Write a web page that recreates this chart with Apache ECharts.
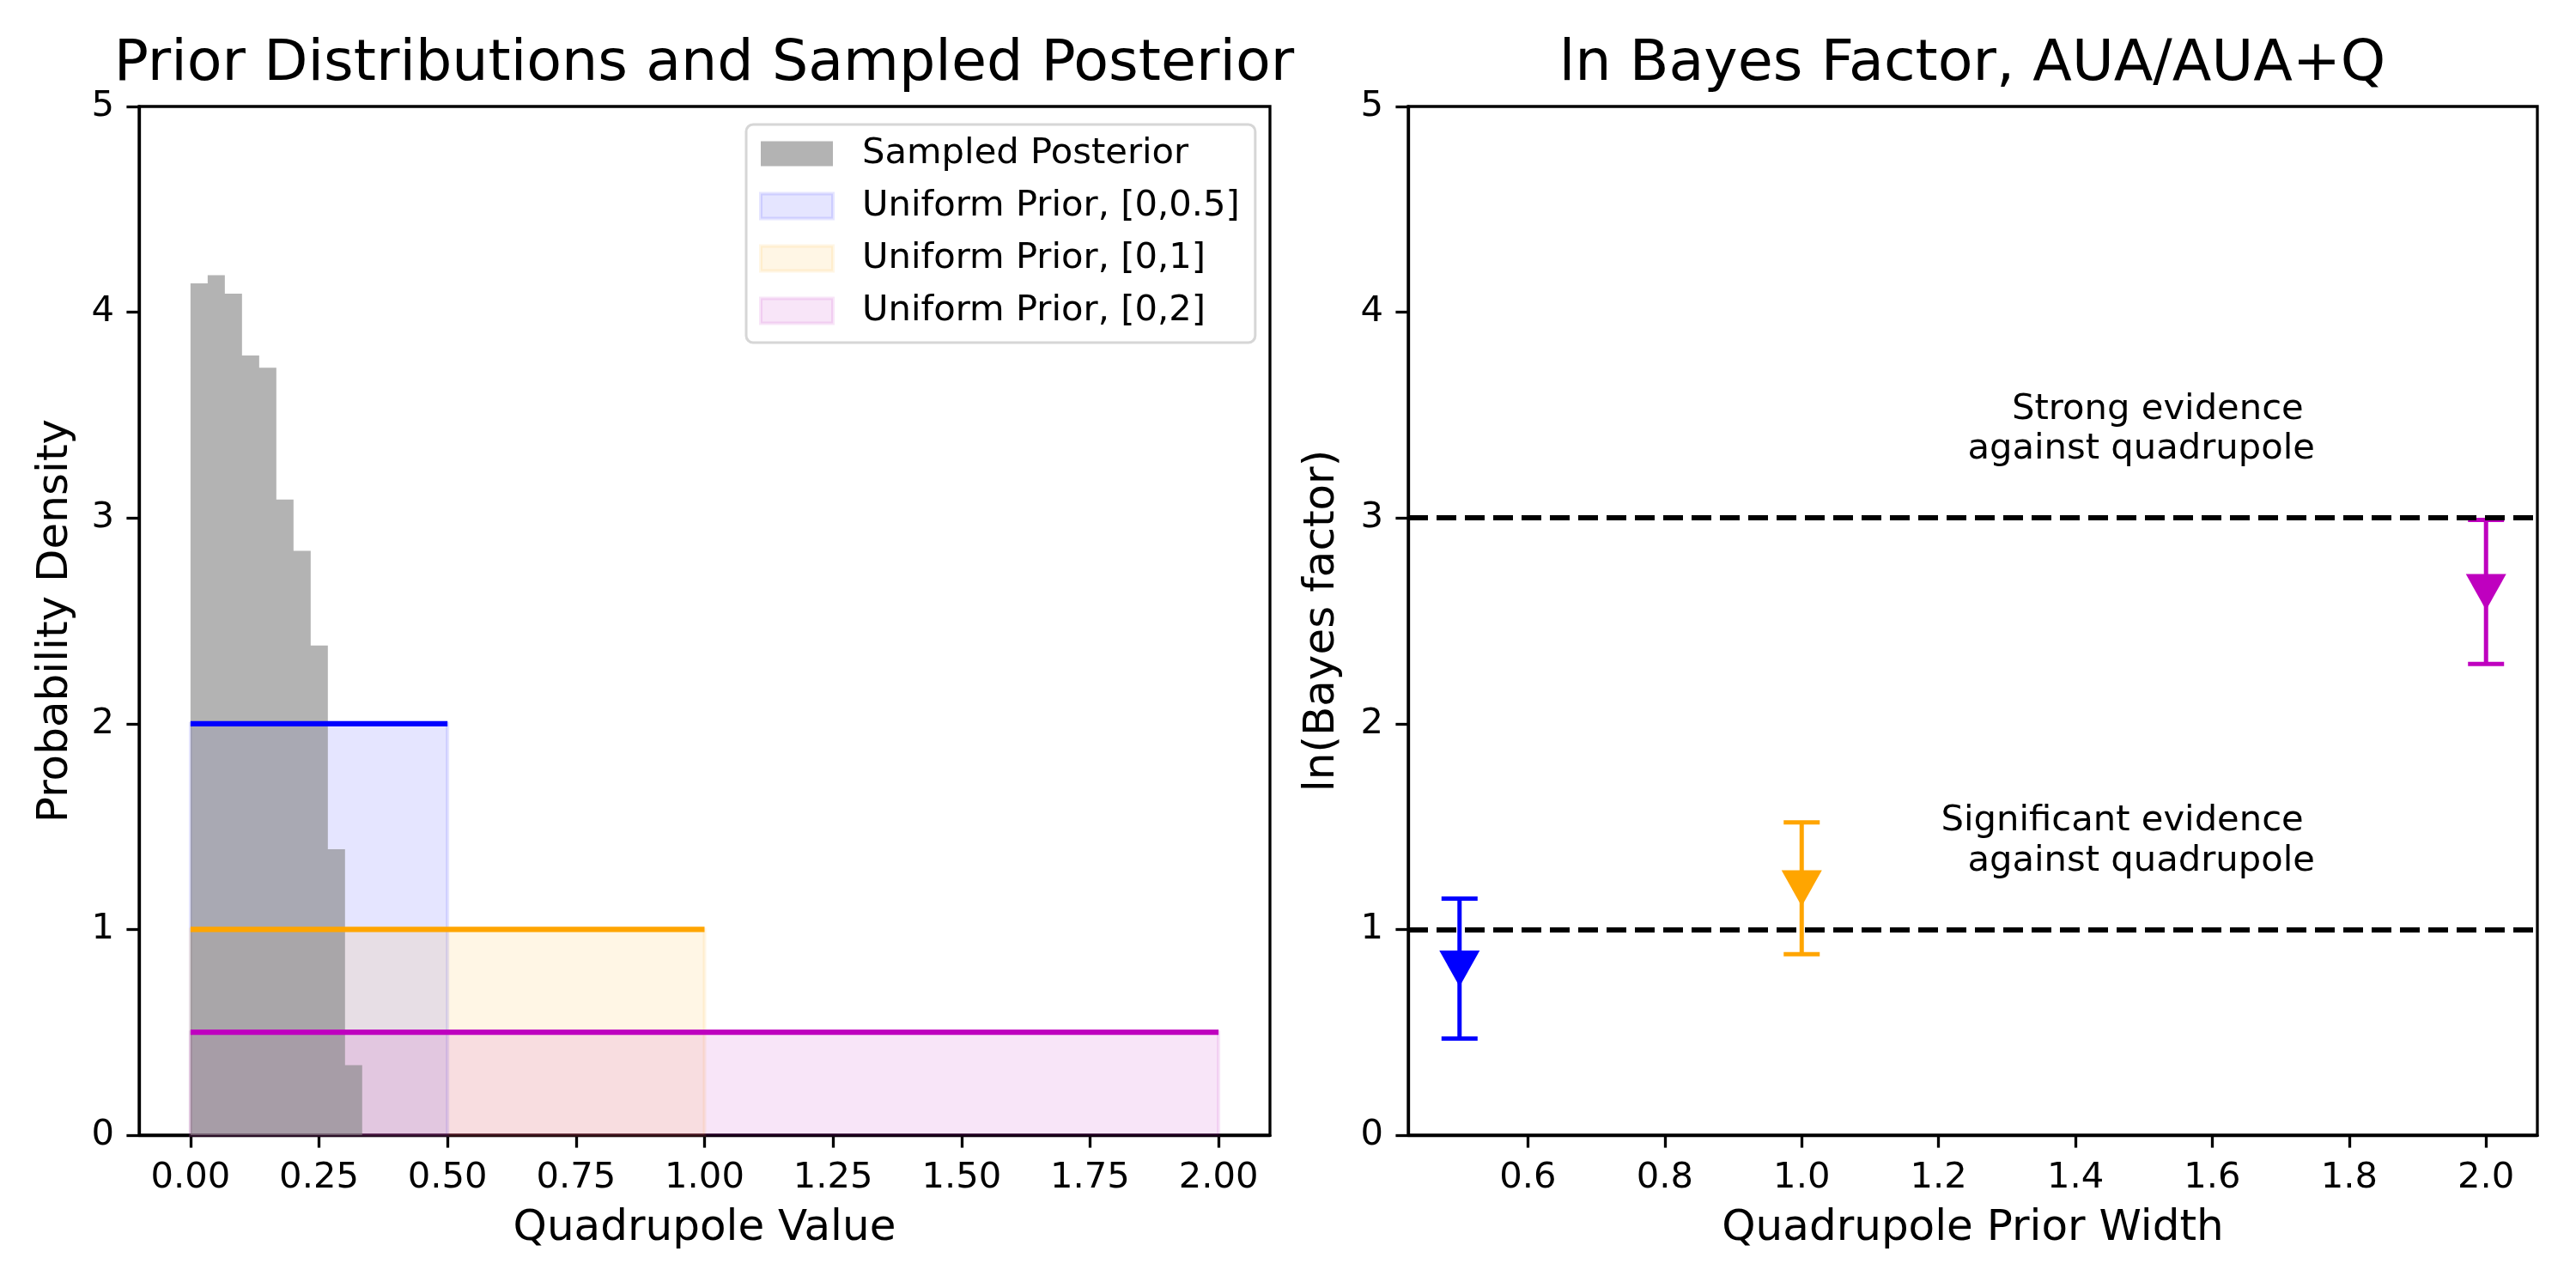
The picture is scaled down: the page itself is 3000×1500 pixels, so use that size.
<!DOCTYPE html>
<html>
<head>
<meta charset="utf-8">
<script src="https://cdn.jsdelivr.net/npm/echarts@6/dist/echarts.min.js"></script>
<style>
html, body { margin: 0; padding: 0; background: #fff; }
#main { width: 3000px; height: 1500px; }
</style>
</head>
<body>
<div id="main"></div>
<script>
// --- data ---
// sampled posterior histogram (density)
var binEdges = [0, 0.0334, 0.0668, 0.1002, 0.1336, 0.1670, 0.2004, 0.2338, 0.2672, 0.3006, 0.3340];
var binHeights = [4.14, 4.18, 4.09, 3.79, 3.73, 3.09, 2.84, 2.38, 1.39, 0.34];

// uniform priors
var priorNames = ['Uniform Prior, [0,0.5]', 'Uniform Prior, [0,1]', 'Uniform Prior, [0,2]'];
var priorWidths = [0.5, 1, 2];
var priorDensity = [2, 1, 0.5];

// ln Bayes factor per prior width
var widths = [0.5, 1.0, 2.0];
var lnBF = [0.81, 1.20, 2.64];
var lnBFErr = [0.34, 0.32, 0.35];
var thresholds = [1, 3];
var noteX = [1.75, 1.75];
var noteY = [3.43, 1.43];
var noteText = ['Strong evidence \nagainst quadrupole', 'Significant evidence \nagainst quadrupole'];

// ticks
var xTicksLeft = [0, 0.25, 0.5, 0.75, 1.0, 1.25, 1.5, 1.75, 2.0];
var xTicksRight = [0.6, 0.8, 1.0, 1.2, 1.4, 1.6, 1.8, 2.0];

// --- styles ---
var FONT = 'DejaVu Sans';
var priorColors = ['#0000ff', '#ffa500', '#bf00bf'];
var priorFills = ['rgba(0,0,255,0.1)', 'rgba(255,165,0,0.1)', 'rgba(191,0,191,0.1)'];
var pointColors = ['#0000ff', '#ffa500', '#bf00bf'];
var histColor = 'rgba(128,128,128,0.6)';

var tickFont = { fontFamily: FONT, fontSize: 41.7, color: '#000' };
var nameFont = { fontFamily: FONT, fontSize: 50, color: '#000' };

function xAxisCfg(idx, min, max, ticks, digits, name) {
	return {
		type: 'value', gridIndex: idx, min: min, max: max,
		name: name, nameLocation: 'middle', nameGap: 84, nameTextStyle: nameFont,
		axisLine: { show: true, onZero: false, lineStyle: { color: '#000', width: 3.3 } },
		axisTick: { show: true, length: 14.6, customValues: ticks, lineStyle: { color: '#000', width: 3.3 } },
		axisLabel: Object.assign({ margin: 29, customValues: ticks,
			formatter: function (v) { return v.toFixed(digits); } }, tickFont),
		splitLine: { show: false }
	};
}
function yAxisCfg(idx, name, gap) {
	return {
		type: 'value', gridIndex: idx, min: 0, max: 5, interval: 1,
		name: name, nameLocation: 'middle', nameGap: gap, nameTextStyle: nameFont,
		axisLine: { show: true, onZero: false, lineStyle: { color: '#000', width: 3.3 } },
		axisTick: { show: true, length: 14.6, lineStyle: { color: '#000', width: 3.3 } },
		axisLabel: Object.assign({ margin: 29 }, tickFont),
		splitLine: { show: false }
	};
}

// histogram as one stepped area
var histPoints = [];
for (var i = 0; i < binEdges.length; i++) {
	histPoints.push([binEdges[i], binHeights[Math.min(i, binHeights.length - 1)]]);
}

var series = [];
series.push({
	name: 'Sampled Posterior', type: 'line', step: 'end', xAxisIndex: 0, yAxisIndex: 0,
	data: histPoints, symbol: 'none', silent: true,
	lineStyle: { width: 0, opacity: 0 },
	areaStyle: { color: histColor, opacity: 1 }
});
// prior fills (rectangles from 0 to width)
priorNames.forEach(function (nm, k) {
	series.push({
		name: nm, type: 'custom', xAxisIndex: 0, yAxisIndex: 0, silent: true,
		itemStyle: { color: priorFills[k] },
		data: [[0, priorWidths[k], priorDensity[k]]],
		renderItem: function (params, api) {
			var p0 = api.coord([api.value(0), api.value(2)]);
			var p1 = api.coord([api.value(1), 0]);
			return {
				type: 'rect',
				shape: { x: p0[0], y: p0[1], width: p1[0] - p0[0], height: p1[1] - p0[1] },
				style: { fill: priorFills[k], stroke: priorFills[k], lineWidth: 4 }
			};
		}
	});
});
// prior density lines
priorNames.forEach(function (nm, k) {
	series.push({
		type: 'line', xAxisIndex: 0, yAxisIndex: 0, silent: true, symbol: 'none',
		data: [[0, priorDensity[k]], [priorWidths[k], priorDensity[k]]],
		lineStyle: { color: priorColors[k], width: 6.25, cap: 'butt' }
	});
});

// right panel: error bars
var bfData = widths.map(function (w, i) { return [w, lnBF[i], lnBFErr[i]]; });
series.push({
	type: 'custom', xAxisIndex: 1, yAxisIndex: 1, silent: true,
	data: bfData,
	renderItem: function (params, api) {
		var x = api.value(0), y = api.value(1), e = api.value(2);
		var top = api.coord([x, y + e]);
		var bot = api.coord([x, y - e]);
		var c = pointColors[params.dataIndex];
		var st = { stroke: c, lineWidth: 5 };
		var cap = 21;
		return {
			type: 'group',
			children: [
				{ type: 'line', shape: { x1: top[0], y1: top[1], x2: bot[0], y2: bot[1] }, style: st },
				{ type: 'line', shape: { x1: top[0] - cap, y1: top[1], x2: top[0] + cap, y2: top[1] }, style: st },
				{ type: 'line', shape: { x1: bot[0] - cap, y1: bot[1], x2: bot[0] + cap, y2: bot[1] }, style: st }
			]
		};
	}
});
series.push({
	type: 'scatter', xAxisIndex: 1, yAxisIndex: 1, silent: true,
	data: widths.map(function (w, i) { return [w, lnBF[i]]; }),
	symbol: 'path://M0,0L10,0L5,9Z', symbolSize: [47, 42],
	itemStyle: { color: function (p) { return pointColors[p.dataIndex]; }, opacity: 1 }
});
// annotations
series.push({
	type: 'custom', xAxisIndex: 1, yAxisIndex: 1, silent: true,
	data: noteX.map(function (x, i) { return [x, noteY[i]]; }),
	renderItem: function (params, api) {
		var p = api.coord([api.value(0), api.value(1)]);
		return {
			type: 'text', x: p[0], y: p[1],
			style: { text: noteText[params.dataIndex], fill: '#000', align: 'right', verticalAlign: 'middle',
				font: '41.7px "' + FONT + '"', lineHeight: 46.7 }
		};
	}
});
// threshold dashed lines
series.push({
	type: 'line', xAxisIndex: 1, yAxisIndex: 1, silent: true, data: [],
	markLine: {
		silent: true, symbol: ['none', 'none'], label: { show: false },
		lineStyle: { color: '#000', width: 6, type: [23, 10] },
		data: thresholds.map(function (t) { return { yAxis: t }; })
	}
});

var option = {
	animation: false,
	backgroundColor: '#fff',
	textStyle: { fontFamily: FONT },
	graphic: [
		{ type: 'text', x: 820, y: 76, style: { text: 'Prior Distributions and Sampled Posterior',
			font: '66.7px "' + FONT + '"', fill: '#000', align: 'center', verticalAlign: 'middle' } },
		{ type: 'text', x: 2297, y: 76, style: { text: 'ln Bayes Factor, AUA/AUA+Q',
			font: '66.7px "' + FONT + '"', fill: '#000', align: 'center', verticalAlign: 'middle' } }
	],
	legend: {
		orient: 'vertical', left: 869, top: 145,
		padding: [13, 18, 16, 15], itemGap: 19, itemWidth: 84, itemHeight: 29,
		borderColor: '#d6d6d6', borderWidth: 3, borderRadius: 8, backgroundColor: '#fff',
		icon: 'rect', selectedMode: false,
		textStyle: { fontFamily: FONT, fontSize: 41.7, color: '#000', lineHeight: 42, padding: [0, 0, 0, 29] },
		data: [{ name: 'Sampled Posterior', itemStyle: { color: histColor, borderWidth: 0 } }].concat(
			priorNames.map(function (nm, k) {
				return { name: nm, itemStyle: { color: priorFills[k], borderColor: priorFills[k], borderWidth: 4 } };
			}))
	},
	grid: [
		{ left: 162, top: 124, width: 1317, height: 1198, show: true, borderColor: '#000', borderWidth: 3.3, backgroundColor: 'transparent' },
		{ left: 1640, top: 124, width: 1315, height: 1198, show: true, borderColor: '#000', borderWidth: 3.3, backgroundColor: 'transparent' }
	],
	xAxis: [
		xAxisCfg(0, -0.1, 2.1, xTicksLeft, 2, 'Quadrupole Value'),
		xAxisCfg(1, 0.425, 2.075, xTicksRight, 1, 'Quadrupole Prior Width')
	],
	yAxis: [
		yAxisCfg(0, 'Probability Density', 72),
		yAxisCfg(1, 'ln(Bayes factor)', 75)
	],
	series: series
};

var myChart = echarts.init(document.getElementById('main'));
myChart.setOption(option);
</script>
</body>
</html>
